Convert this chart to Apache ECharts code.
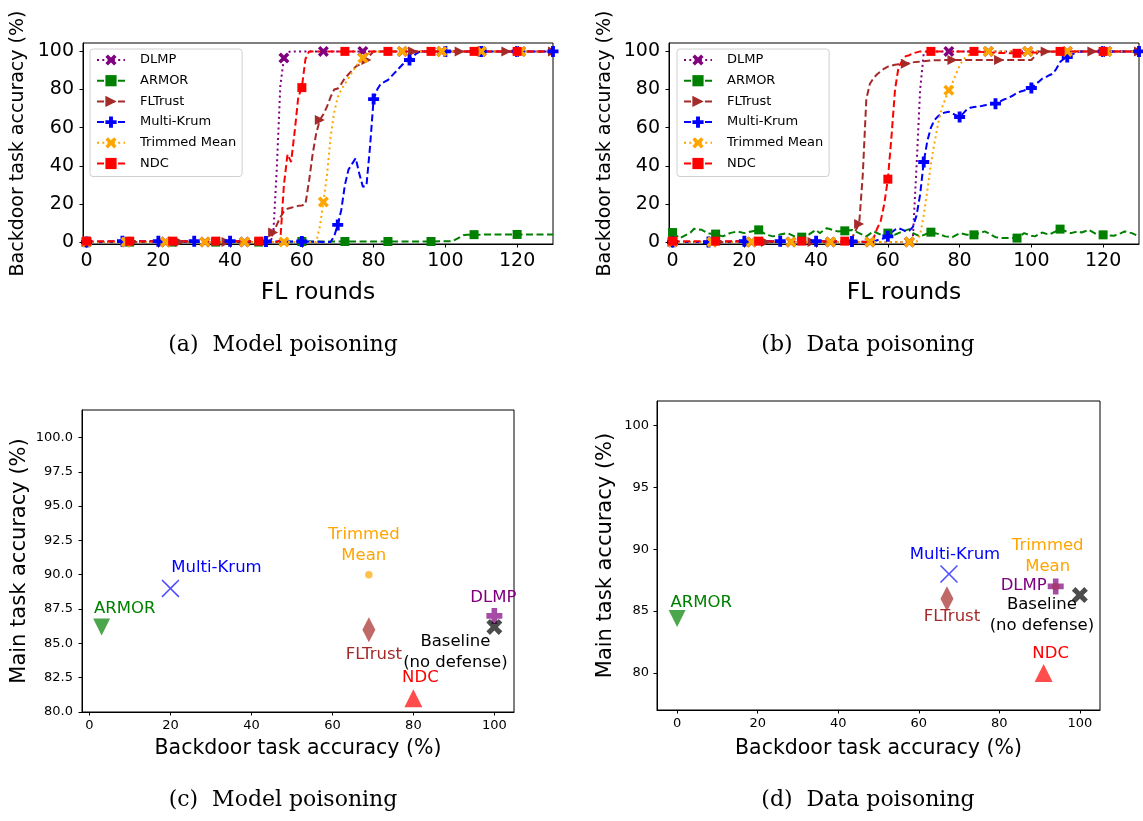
<!DOCTYPE html>
<html><head><meta charset="utf-8">
<script src="https://cdn.jsdelivr.net/npm/echarts@6/dist/echarts.min.js"></script>
<style>html,body{margin:0;padding:0;background:#fff}#c{width:1143px;height:821px}</style>
</head><body><div id="c"></div>
<script>
// ---------- DATA ----------
const SERIES_NAMES = ['DLMP','ARMOR','FLTrust','Multi-Krum','Trimmed Mean','NDC'];
const X_TICKS_ROUNDS = [0,20,40,60,80,100,120];
const Y_TICKS_BACKDOOR = [0,20,40,60,80,100];

// (a) Model poisoning: [round, backdoor accuracy]
const DLMP_A = [[0,0],[11,0],[22,0],[33,0],[44,0],[51,0],[52,3],[53,38],[54,82],[55,96.5],[56,99.5],[57,100],[66,100],[77,100],[88,100],[99,100],[110,100],[121,100],[130,100]];
const ARMOR_A = [[0,0],[12,0],[24,0],[36,0],[48,0],[60,0.3],[72,0.3],[84,0.3],[96,0.3],[102,0.5],[104,2.5],[105,3.6],[106,3.9],[108,3.9],[120,4],[130,4]];
const FLTRUST_A = [[0,0],[13,0],[26,0],[39,0],[51,0],[52,5],[53,9],[54,13],[55,16],[56,17.5],[57,18],[58,18.5],[59,19],[60,19.2],[61,20],[62,32],[63,46],[64,57],[65,64],[66,67],[67,71],[68,76],[69,80],[70,80.5],[71,83],[72,86],[73,88],[74,90],[75,92],[76,93],[77,94.5],[78,95.5],[79,98],[80,100],[91,100],[104,100],[117,100],[130,100]];
const MK_A = [[0,0],[10,0.5],[20,0.5],[30,0.5],[40,0.5],[50,0.3],[60,0.3],[68,0],[69,3],[70,9],[71,17],[72,30],[73,38],[74,41],[75,44],[76,36],[77,29],[78,29.5],[79,50],[80,75],[81,80],[82,83],[83,84],[84,85],[85,87],[86,89],[87,91],[88,93],[89,94.5],[90,95.5],[91,97.5],[92,99],[93,100],[100,100],[110,100],[120,100],[130,100]];
const TM_A = [[0,0],[11,0],[22,0],[33,0],[44,0],[55,0],[64,0],[65,8],[66,21],[67,35],[68,55],[69,68],[70,76],[71,80],[72,83],[73,86],[74,89],[75,92],[76,94.5],[77,96.5],[78,98],[79,99.5],[80,100],[88,100],[99,100],[110,100],[121,100],[130,100]];
const NDC_A = [[0,0.5],[12,0.5],[24,0.5],[36,0.5],[48,0.5],[53,0],[54,1],[55,30],[56,46],[57,42],[58,58],[59,76],[60,81],[61,96],[62,100],[72,100],[84,100],[96,100],[108,100],[120,100],[130,100]];

// (b) Data poisoning
const DLMP_B = [[0,0],[11,0],[22,0],[33,0],[44,0],[55,0],[66,0],[67,3],[68,40],[69,80],[70,99],[71,100],[77,100],[88,100],[99,100],[110,100],[121,100],[130,100]];
const ARMOR_B = [[0,5],[2,2],[5,5],[6,7],[8,6.5],[10,4.5],[12,4.2],[14,3],[16,4.7],[18,5.6],[20,4.7],[22,5.6],[24,6.4],[26,4],[28,3],[30,4],[32,4.7],[34,3],[36,2.6],[38,4],[40,6.4],[41,4.7],[43,7.3],[46,5.6],[48,5.9],[50,6.4],[52,4.7],[54,3],[56,5.6],[58,3.9],[60,4.7],[62,3.9],[64,5.6],[66,6.8],[67,4.7],[69,3],[72,5.2],[74,4.3],[76,3],[78,2.6],[80,4.7],[82,3.9],[84,3.8],[87,5.6],[88,4.7],[90,2.6],[92,2.1],[94,2.1],[96,2.1],[98,4.7],[100,3.3],[101,3],[103,5],[105,3.9],[108,6.8],[111,4.7],[113,5.6],[114,5],[116,6.4],[118,4.3],[120,3.8],[123,3.3],[125,4.7],[126,5.6],[128,4.7],[130,3]];
const FLTRUST_B = [[0,0],[13,0],[26,0],[39,0],[49,0],[50,2],[51,6],[52,9.5],[53,35],[54,75],[55,83],[56,86],[57,88],[58,89.5],[59,91],[60,92],[61,92.5],[62,93],[63,93.3],[64,93.5],[65,93.5],[66,94],[68,94.5],[70,94.8],[72,95.3],[78,95.5],[91,95.5],[100,95.5],[101,97.5],[102,100],[104,100],[117,100],[130,100]];
const MK_B = [[0,0],[10,0],[20,0.5],[30,0.5],[40,0.5],[50,0.3],[56,0],[57,1],[58,1.5],[59,2],[60,3],[61,5],[62,6.5],[63,7.3],[64,6.5],[65,5.6],[66,6],[67,8],[68,14],[69,25],[70,42],[71,53],[72,60],[73,64],[74,66],[75,67.4],[76,68],[77,68.3],[78,67.5],[79,66.5],[80,65.6],[81,67.5],[82,69.5],[83,70.5],[84,70.8],[85,71],[86,71.3],[87,71.8],[88,72],[89,72.3],[90,72.6],[91,73.5],[92,74.5],[93,75.2],[94,76],[95,77],[96,78.3],[97,79],[98,79.5],[99,80.2],[100,80.8],[101,82.5],[102,84],[103,85.7],[104,86.5],[105,87.5],[106,88.3],[107,91],[108,94.4],[109,96],[110,97],[111,98],[112,99],[113,99.7],[114,100],[120,100],[130,100]];
const TM_B = [[0,0],[11,0],[22,0],[33,0],[44,0],[55,0],[66,0],[68,0],[69,4],[70,14],[71,27],[72,41],[73,52],[74,62],[75,70],[76,75],[77,79.6],[78,83.5],[79,88],[80,92.7],[81,95.5],[82,97.5],[83,98.5],[84,99.2],[85,100],[88,100],[99,100],[110,100],[121,100],[130,100]];
const NDC_B = [[0,0.5],[12,0.5],[24,0.5],[36,0.5],[48,0.5],[55,0],[56,2],[57,7],[58,11],[59,20],[60,33],[61,55],[62,80],[63,92],[64,95],[65,97.5],[66,98],[67,99],[68,99.5],[69,100],[72,100],[84,100],[90,99.2],[96,99],[102,99.5],[108,100],[120,100],[130,100]];

// (c)/(d) scatter: methods, backdoor accuracy, main accuracy
const POINT_LABELS = ['ARMOR','Multi-Krum','Trimmed\nMean','FLTrust','NDC','DLMP','Baseline\n(no defense)'];
const C_BACKDOOR = [3, 20, 69, 69, 80, 100, 100];
const C_MAIN     = [86.2, 89, 90, 86, 81, 87, 86.2];
const D_BACKDOOR = [0, 67.5, 94, 67, 91, 94, 100];
const D_MAIN     = [84.4, 88, 87, 86, 80, 87, 86.3];
const C_Y_TICKS = [80, 82.5, 85, 87.5, 90, 92.5, 95, 97.5, 100];
const D_Y_TICKS = [80, 85, 90, 95, 100];
const SCATTER_X_TICKS = [0, 20, 40, 60, 80, 100];
const CAPTIONS = ['(a)  Model poisoning','(b)  Data poisoning','(c)  Model poisoning','(d)  Data poisoning'];

// ---------- STYLE ----------
const P_X = 'path://M0,4.5 L4.5,0 L10,5.5 L15.5,0 L20,4.5 L14.5,10 L20,15.5 L15.5,20 L10,14.5 L4.5,20 L0,15.5 L5.5,10 Z';
const P_PLUS = 'path://M6.5,0 L13.5,0 L13.5,6.5 L20,6.5 L20,13.5 L13.5,13.5 L13.5,20 L6.5,20 L6.5,13.5 L0,13.5 L0,6.5 L6.5,6.5 Z';
const P_RIGHT = 'path://M0,0 L20,10 L0,20 Z';
const P_THINX = 'path://M0,1.2 L1.2,0 L10,8.8 L18.8,0 L20,1.2 L11.2,10 L20,18.8 L18.8,20 L10,11.2 L1.2,20 L0,18.8 L8.8,10 Z';
const DASH = [7, 3.5], DOT = [2, 3.3];
const LSTYLE = {
  'DLMP':        {color:'#800080', dash:DOT,  symbol:P_X,      size:11, step:11},
  'ARMOR':       {color:'#008000', dash:DASH, symbol:'rect',   size:9,  step:12},
  'FLTrust':     {color:'#a52a2a', dash:DASH, symbol:P_RIGHT,  size:10, step:13},
  'Multi-Krum':  {color:'#0000ff', dash:DASH, symbol:P_PLUS,   size:11, step:10},
  'Trimmed Mean':{color:'#ffa500', dash:DOT,  symbol:P_X,      size:11, step:11},
  'NDC':         {color:'#ff0000', dash:DASH, symbol:'rect',   size:9,  step:12}
};
const PT_STYLE = [
  {fill:'rgba(0,128,0,0.7)',    text:'#008000', symbol:'triangle', rot:180, size:17},
  {fill:'rgba(0,0,255,0.7)',    text:'#0000ff', symbol:P_THINX, rot:0, size:18},
  {fill:'rgba(255,165,0,0.7)',  text:'#ffa500', symbol:'circle', rot:0, size:7.5},
  {fill:'rgba(165,42,42,0.7)',  text:'#a52a2a', symbol:'diamond', rot:0, size:[13,25]},
  {fill:'rgba(255,0,0,0.7)',    text:'#ff0000', symbol:'triangle', rot:0, size:18},
  {fill:'rgba(128,0,128,0.7)',  text:'#800080', symbol:P_PLUS, rot:0, size:16},
  {fill:'rgba(0,0,0,0.7)',      text:'#000000', symbol:P_X, rot:0, size:16}
];
const C_OFF = [[23,-18],[46,-21],[-5,-30],[5,25],[7,-21],[-1,-18],[-39,25]];
const D_OFF = [[24,-16],[6,-19],[-8,-30],[5,18],[7,-19],[-32,-1],[-38,20]];

const FONT = 'DejaVu Sans';
const chart = echarts.init(document.getElementById('c'), null, {renderer:'canvas'});

function lineData(pairs, step){
  return pairs.map(p => (p[0] % step === 0) ? {value:p} : {value:p, symbol:'none'});
}
function lineSeries(name, pairs, idx){
  const s = LSTYLE[name];
  return {
    type:'line', name, xAxisIndex:idx, yAxisIndex:idx,
    data: lineData(pairs, s.step),
    symbol: s.symbol, symbolSize: s.size, showSymbol:true, showAllSymbol:true,
    lineStyle:{color:s.color, width:2, type:s.dash},
    itemStyle:{color:s.color},
    animation:false, clip:true, z:2
  };
}
function scatterSeries(xs, ys, offs, idx){
  return {
    type:'scatter', name:'pts'+idx, xAxisIndex:idx, yAxisIndex:idx, animation:false,
    itemStyle:{opacity:1},
    data: xs.map((x,i)=>({
      value:[x, ys[i]],
      symbol: PT_STYLE[i].symbol, symbolRotate: PT_STYLE[i].rot, symbolSize: PT_STYLE[i].size,
      itemStyle:{color: PT_STYLE[i].fill, opacity:1},
      label:{show:true, position:'inside', offset:offs[i], formatter: POINT_LABELS[i], opacity:1,
        color: PT_STYLE[i].text, fontFamily:FONT, fontSize:16.5, lineHeight:21, align:'center', verticalAlign:'middle'}
    }))
  };
}
function xAxis(idx, min, max, ticks, fs, name, nameFs, gap, margin){
  return {type:'value', gridIndex:idx, min, max,
    axisLine:{show:true, onZero:false, lineStyle:{color:'#000', width:1}},
    axisTick:{show:true, inside:false, length:3.5, customValues:ticks, lineStyle:{color:'#000'}},
    axisLabel:{customValues:ticks, fontFamily:FONT, fontSize:fs, color:'#000', margin},
    splitLine:{show:false},
    name, nameLocation:'middle', nameGap:gap, nameTextStyle:{fontFamily:FONT, fontSize:nameFs, color:'#000'}};
}
function yAxis(idx, min, max, ticks, fs, name, nameFs, gap, margin, fmt){
  return {type:'value', gridIndex:idx, min, max,
    axisLine:{show:true, onZero:false, lineStyle:{color:'#000', width:1}},
    axisTick:{show:true, inside:false, length:3.5, customValues:ticks, lineStyle:{color:'#000'}},
    axisLabel:{customValues:ticks, fontFamily:FONT, fontSize:fs, color:'#000', margin, formatter: fmt},
    splitLine:{show:false},
    name, nameLocation:'middle', nameGap:gap, nameTextStyle:{fontFamily:FONT, fontSize:nameFs, color:'#000'}};
}
const gridBase = {show:true, borderColor:'#000', borderWidth:1, backgroundColor:'transparent', containLabel:false};
const legendBase = {orient:'vertical', data:SERIES_NAMES, itemWidth:28, itemHeight:14, itemGap:6.7,
  padding:[4,6,6,6], borderColor:'#d0d0d0', borderWidth:1, borderRadius:3, backgroundColor:'rgba(255,255,255,0.85)',
  textStyle:{fontFamily:FONT, fontSize:13, color:'#000', lineHeight:14, padding:[0,0,0,10]}, selectedMode:false};

const option = {
  animation:false,
  backgroundColor:'#fff',
  grid:[
    Object.assign({left:83, top:43, width:470, height:201}, gridBase),
    Object.assign({left:669, top:43, width:470, height:201}, gridBase),
    Object.assign({left:82, top:410, width:432, height:302}, gridBase),
    Object.assign({left:657, top:401, width:443, height:309}, gridBase)
  ],
  xAxis:[
    xAxis(0, -1, 130, X_TICKS_ROUNDS, 19, 'FL rounds', 23.5, 37, 8),
    xAxis(1, -1, 130, X_TICKS_ROUNDS, 19, 'FL rounds', 23.5, 37, 8),
    xAxis(2, -1.85, 104.85, SCATTER_X_TICKS, 13, 'Backdoor task accuracy (%)', 20.5, 26, 7),
    xAxis(3, -5, 105, SCATTER_X_TICKS, 13, 'Backdoor task accuracy (%)', 20.5, 28, 7)
  ],
  yAxis:[
    yAxis(0, -1, 104.4, Y_TICKS_BACKDOOR, 19, 'Backdoor task accuracy (%)', 19, 55, 9),
    yAxis(1, -1, 104.4, Y_TICKS_BACKDOOR, 19, 'Backdoor task accuracy (%)', 19, 54, 9),
    yAxis(2, 80, 102, C_Y_TICKS, 13, 'Main task accuracy (%)', 21, 52, 9, v => v.toFixed(1)),
    yAxis(3, 77, 102, D_Y_TICKS, 13, 'Main task accuracy (%)', 21, 41, 8)
  ],
  legend:[
    Object.assign({left:90, top:49}, legendBase),
    Object.assign({left:677, top:49}, legendBase)
  ],
  series:[
    lineSeries('DLMP', DLMP_A, 0), lineSeries('ARMOR', ARMOR_A, 0), lineSeries('FLTrust', FLTRUST_A, 0),
    lineSeries('Multi-Krum', MK_A, 0), lineSeries('Trimmed Mean', TM_A, 0), lineSeries('NDC', NDC_A, 0),
    lineSeries('DLMP', DLMP_B, 1), lineSeries('ARMOR', ARMOR_B, 1), lineSeries('FLTrust', FLTRUST_B, 1),
    lineSeries('Multi-Krum', MK_B, 1), lineSeries('Trimmed Mean', TM_B, 1), lineSeries('NDC', NDC_B, 1),
    scatterSeries(C_BACKDOOR, C_MAIN, C_OFF, 2),
    scatterSeries(D_BACKDOOR, D_MAIN, D_OFF, 3)
  ],
  graphic:[
    {type:'text', x:283, y:345, style:{text:CAPTIONS[0], font:'22px "DejaVu Serif"', fill:'#000', align:'center', verticalAlign:'middle'}},
    {type:'text', x:868, y:345, style:{text:CAPTIONS[1], font:'22px "DejaVu Serif"', fill:'#000', align:'center', verticalAlign:'middle'}},
    {type:'text', x:283, y:800, style:{text:CAPTIONS[2], font:'22px "DejaVu Serif"', fill:'#000', align:'center', verticalAlign:'middle'}},
    {type:'text', x:868, y:800, style:{text:CAPTIONS[3], font:'22px "DejaVu Serif"', fill:'#000', align:'center', verticalAlign:'middle'}}
  ]
};
chart.setOption(option);
</script></body></html>
